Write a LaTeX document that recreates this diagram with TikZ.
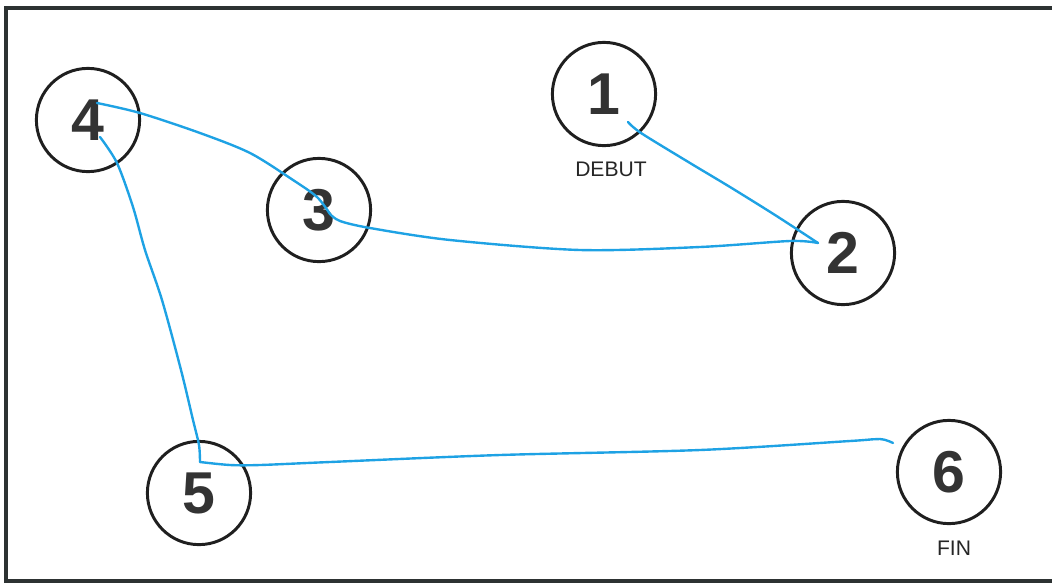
\documentclass[tikz,border=0pt]{standalone}
\usepackage{fontspec}
\setmainfont{Liberation Sans}
\usepackage{xcolor}
\usetikzlibrary{calc}
\definecolor{penblue}{RGB}{30,162,228}
\definecolor{frameink}{RGB}{45,50,50}

\begin{document}
\begin{tikzpicture}[x=0.025cm,y=-0.025cm,
  stopc/.style={draw=black!88,circle,line width=2.1pt,minimum size=2.58cm,inner sep=0pt,
                font=\bfseries\fontsize{42}{42}\selectfont,text=black!80},
  tag/.style={font=\fontsize{15}{15}\selectfont,text=black!85,inner sep=0pt},
  pen/.style={draw=penblue,line width=1.7pt,line cap=round,line join=round}]

  \useasboundingbox (0,0) rectangle (1052,587);
  % frame, open on the right
  \draw[frameink,line width=3pt] (1052,8) -- (6,8) -- (6,581) -- (1052,581);

  % numbered stops
  \node[stopc] (c1) at (604,94)  {1};
  \node[stopc] (c2) at (843,253) {2};
  \node[stopc] (c3) at (319,210) {3};
  \node[stopc] (c4) at (88,120)  {4};
  \node[stopc] (c5) at (199,493) {5};
  \node[stopc] (c6) at (949,472) {6};
  \node[tag] (debut) at (611,169) {DEBUT};
  \node[tag] (fin)   at (954,548) {FIN};

  % hand-drawn route
  \coordinate (a1) at (628,122);
  \coordinate (a2) at (818,243);
  \coordinate (a3) at (330,214);
  \coordinate (a4) at (97,103);
  \coordinate (b4) at (100,137);
  \coordinate (b5) at (200,462);
  \coordinate (b6) at (893,443);
  \draw[pen] plot[smooth,tension=0.5] coordinates {(a1) (641,133) (690,163) (730,187) (775,215) (a2)};
  \draw[pen] plot[smooth,tension=0.5] coordinates {(a2) (790,241) (700,247) (580,250) (450,240) (370,228) (340,221) (a3)};
  \draw[pen] plot[smooth,tension=0.5] coordinates {(a3) (317,197) (293,180) (250,153) (200,133) (140,113) (a4)};
  \draw[pen] plot[smooth,tension=0.5] coordinates {(b4) (117,163) (133,207) (145,250) (162,300) (181,370) (193,420) (199,445) (b5)};
  \draw[pen] plot[smooth,tension=0.5] coordinates {(b5) (230,465) (260,465) (330,462) (500,455) (700,450) (850,441) (880,439) (b6)};
\end{tikzpicture}
\end{document}
